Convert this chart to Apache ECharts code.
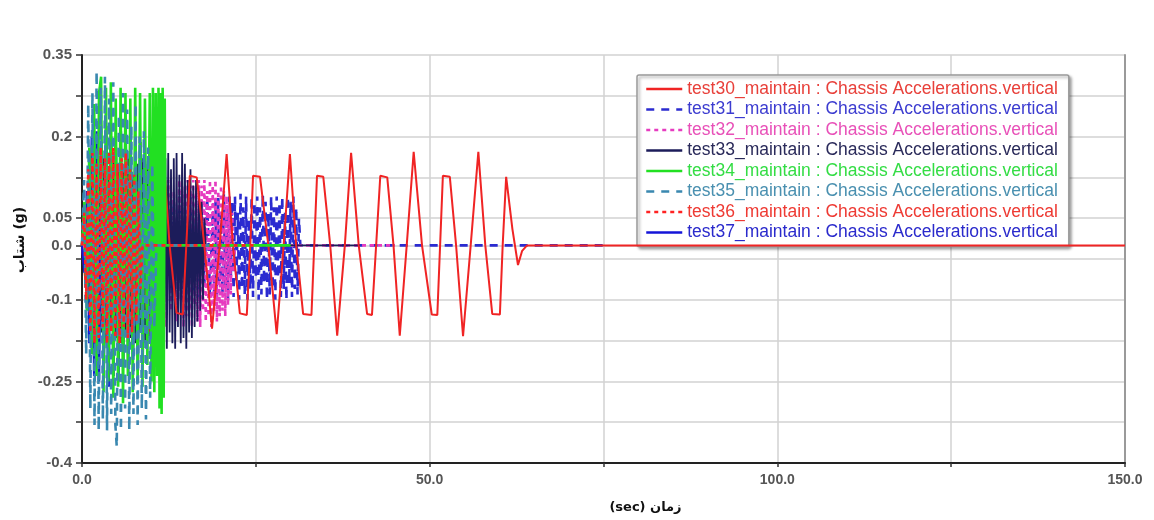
<!DOCTYPE html>
<html><head><meta charset="utf-8">
<script src="https://cdn.jsdelivr.net/npm/echarts@6/dist/echarts.min.js"></script>
<style>html,body{margin:0;padding:0;background:#fff}#c{width:1154px;height:520px}</style>
</head><body><div id="c"></div>
<script>
const seriesNames = [
  'test30_maintain : Chassis Accelerations.vertical',
  'test31_maintain : Chassis Accelerations.vertical',
  'test32_maintain : Chassis Accelerations.vertical',
  'test33_maintain : Chassis Accelerations.vertical',
  'test34_maintain : Chassis Accelerations.vertical',
  'test35_maintain : Chassis Accelerations.vertical',
  'test36_maintain : Chassis Accelerations.vertical',
  'test37_maintain : Chassis Accelerations.vertical'
];
const seriesColors = ['#f02424','#2b2bd0','#e63cc0','#1c1c5a','#22e022','#3a88b0','#ff2222','#1414d8'];
const legendTextColors = ['#e8403a','#3c3cd0','#e850b8','#2a2a5a','#33dd44','#4a90b0','#ee3a33','#2a2acc'];

// [time (sec), acceleration (g)]
const test30 = [[0,0],[0.6,-0.08],[1.6,0.05],[2.6,0.165],[3.5,0],[4.5,-0.125],[5.4,-0.12],[5.9,0],[6.4,0.126],[7.4,0.122],[8.4,0],[9.6,-0.16],[10.6,0],[11.7,0.168],
[12.6,0],[13.6,-0.124],[14.5,-0.127],[15.0,0],[15.5,0.128],[16.5,0.125],[17.6,0],[18.7,-0.153],[19.8,0],[20.8,0.168],
[21.7,0],[22.7,-0.125],[23.7,-0.128],[24.2,0],[24.6,0.128],[25.6,0.126],[26.8,0],[28.0,-0.163],[29.0,0],[29.9,0.168],
[30.8,0],[31.8,-0.126],[33.0,-0.128],[33.4,0],[33.8,0.128],[34.7,0.126],[35.7,0],[36.7,-0.166],[37.8,0],[38.7,0.17],
[39.8,0],[41.0,-0.126],[41.7,-0.128],[42.3,0],[42.9,0.128],[43.9,0.125],[44.8,0],[45.7,-0.166],[46.7,0],[47.7,0.172],
[48.9,0],[50.3,-0.127],[51.1,-0.128],[51.5,0],[51.9,0.128],[52.9,0.126],[53.8,0],[54.8,-0.167],[55.9,0],[57.0,0.172],
[58.0,0],[59.0,-0.126],[60.1,-0.127],[60.5,0],[61.0,0.126],[61.9,0.03],[62.7,-0.036],[63.3,-0.01],[64.0,0],[150,0]];

const test31 = [[0,0],[0.4,0.05],[0.8,-0.07],[1.2,0.08],[1.6,-0.09],[2.0,0.07],[2.4,-0.1],[2.8,0.09],[3.2,-0.08],[3.6,0.06],[4.0,-0.1],[4.4,0.09],[4.8,-0.07],[5.2,0.08],[5.6,-0.09],[6.0,0.09],[6.4,-0.06],[6.8,0.07],[7.2,-0.1],[7.6,0.08],[8.0,-0.09],[8.4,0.06],[8.8,-0.08],[9.2,0.09],[9.6,-0.1],[10.0,0.07],[10.4,-0.09],[10.8,0.08],[11.2,-0.07],[11.6,0.09],[12.0,-0.1],[12.4,0.06],[12.8,-0.09],[13.2,0.08],[13.6,-0.06],[14.0,0.09],[14.4,-0.1],[14.8,0.07],[15.2,-0.08],[15.6,0.09],[16.0,-0.09],[16.4,0.05],[16.8,-0.1],[17.2,0.08],[17.6,-0.07],[18.0,0.09],[18.4,-0.09],[18.8,0.06],
[19.0,-0.09],[19.2,0.08],[19.4,-0.1],[19.6,0.09],[19.8,-0.07],[20.0,0.06],[20.2,-0.09],[20.4,0.095],[20.6,-0.08],[20.8,0.07],[21.0,-0.1],[21.2,0.09],[21.4,-0.06],[21.6,0.08],[21.8,-0.095],[22.0,0.09],[22.2,-0.07],[22.4,0.06],[22.6,-0.1],[22.8,0.095],[23.0,-0.08],[23.2,0.07],[23.4,-0.09],[23.6,0.09],[23.8,-0.1],[24.0,0.05],[24.2,-0.08],[24.4,0.09],[24.6,-0.095],[24.8,0.08],[25.0,-0.06],[25.2,0.09],[25.4,-0.1],[25.6,0.07],[25.8,-0.09],[26.0,0.095],[26.2,-0.07],[26.4,0.08],[26.6,-0.1],[26.8,0.06],[27.0,-0.09],[27.2,0.09],[27.4,-0.08],[27.6,0.07],[27.8,-0.1],[28.0,0.09],[28.2,-0.06],[28.4,0.08],[28.6,-0.095],[28.8,0.09],[29.0,-0.08],[29.2,0.06],[29.4,-0.1],[29.6,0.09],[29.8,-0.07],[30.0,0.08],[30.2,-0.095],[30.4,0.09],[30.6,-0.08],[30.8,0.07],[31.0,-0.09],[31.2,0.05],[31.4,0],[75,0]];

const test32 = [[0,0],[0.4,0.04],[0.8,-0.06],[1.2,0.08],[1.6,-0.1],[2.0,0.1],[2.4,-0.12],[2.8,0.11],[3.2,-0.13],[3.6,0.1],[4.0,-0.12],[4.4,0.12],[4.8,-0.14],[5.2,0.09],[5.6,-0.13],[6.0,0.11],[6.4,-0.12],[6.8,0.12],[7.2,-0.14],[7.6,0.1],[8.0,-0.11],[8.4,0.12],[8.8,-0.15],[9.2,0.11],[9.6,-0.12],[10.0,0.1],[10.4,-0.14],[10.8,0.12],[11.2,-0.13],[11.6,0.11],[12.0,-0.15],[12.4,0.12],[12.8,-0.12],[13.2,0.1],[13.6,-0.14],
[14.0,0.12],[14.2,-0.1],[14.4,0.11],[14.6,-0.15],[14.8,0.1],[15.0,-0.13],[15.2,0.12],[15.4,-0.12],[15.6,0.11],[15.8,-0.15],[16.0,0.12],[16.2,-0.11],[16.4,0.1],[16.6,-0.14],[16.8,0.12],[17.0,-0.15],[17.2,0.11],[17.4,-0.12],[17.6,0.12],[17.8,-0.14],[18.0,0.1],[18.2,-0.13],[18.4,0.12],[18.6,-0.15],[18.8,0.11],[19.0,-0.12],[19.2,0.12],[19.4,-0.14],[19.6,0.1],[19.8,-0.13],[20.0,0.11],[20.2,-0.12],[20.4,0.1],[20.6,-0.13],[20.8,0.09],[21.0,-0.11],[21.2,0.08],[21.4,-0.09],[21.6,0.06],[21.8,-0.05],[22.0,0],[45,0]];

const test33 = [[0,0],[0.35,0.06],[0.7,-0.09],[1.05,0.12],[1.4,-0.14],[1.75,0.15],[2.1,-0.17],[2.45,0.14],[2.8,-0.16],[3.15,0.16],[3.5,-0.18],[3.85,0.13],[4.2,-0.15],[4.55,0.16],[4.9,-0.17],[5.25,0.15],[5.6,-0.18],[5.95,0.14],[6.3,-0.16],[6.65,0.16],[7.0,-0.17],[7.35,0.13],[7.7,-0.18],[8.05,0.15],[8.4,-0.16],[8.75,0.16],[9.1,-0.18],[9.45,0.14],[9.8,-0.17],[10.15,0.15],[10.5,-0.16],[10.85,0.16],[11.2,-0.18],
[11.6,0.15],[11.8,-0.17],[12.0,0.16],[12.2,-0.19],[12.4,0.17],[12.6,-0.16],[12.8,0.14],[13.0,-0.18],[13.2,0.16],[13.4,-0.19],[13.6,0.17],[13.8,-0.15],[14.0,0.13],[14.2,-0.18],[14.4,0.17],[14.6,-0.17],[14.8,0.15],[15.0,-0.19],[15.2,0.12],[15.4,-0.16],[15.6,0.14],[15.8,-0.17],[16.0,0.11],[16.2,-0.15],[16.4,0.12],[16.6,-0.14],[16.8,0.1],[17.0,-0.12],[17.2,0.08],[17.4,-0.1],[17.6,0.05],[17.8,0],[40,0]];

const test34 = [[0,0],[0.35,0.08],[0.7,-0.12],[1.05,0.18],[1.4,-0.2],[1.75,0.26],[2.1,-0.24],[2.45,0.28],[2.75,0.31],[3.1,-0.27],[3.45,0.29],[3.8,-0.25],[4.15,0.3],[4.5,-0.28],[4.85,0.27],[5.2,-0.26],[5.55,0.29],[5.9,-0.29],[6.25,0.28],[6.6,-0.24],[6.95,0.27],[7.3,-0.27],[7.65,0.29],[8.0,-0.25],[8.35,0.28],[8.7,-0.26],[9.05,0.27],[9.4,-0.22],[9.75,0.28],[10.0,-0.25],[10.2,0.29],[10.4,-0.27],[10.6,0.28],[10.8,-0.24],[11.0,0.29],[11.15,-0.3],[11.3,0.28],[11.45,-0.31],[11.6,0.29],[11.75,-0.28],[11.9,0.27],[12.0,0],[30,0]];

const test35 = [[0,0],[0.3,0.12],[0.6,-0.2],[0.9,0.26],[1.2,-0.3],[1.5,0.28],[1.8,-0.33],[2.1,0.32],[2.4,-0.34],[2.7,0.29],[3.0,-0.32],[3.3,0.31],[3.6,-0.34],[3.9,0.27],[4.2,-0.31],[4.5,0.3],[4.8,-0.33],[5.0,-0.37],[5.3,0.24],[5.6,-0.34],[5.9,0.28],[6.2,-0.3],[6.5,0.25],[6.8,-0.34],[7.1,0.22],[7.4,-0.31],[7.7,0.26],[8.0,-0.33],[8.3,0.2],[8.6,-0.3],[8.9,0.21],[9.2,-0.32],[9.5,0.18],[9.8,-0.28],[10.1,0.15],[10.4,-0.15],[10.7,0],[20,0]];

const test36 = [[0,0],[0.3,0.06],[0.6,-0.1],[0.9,0.14],[1.2,-0.16],[1.5,0.17],[1.8,-0.18],[2.1,0.15],[2.4,-0.17],[2.7,0.18],[3.0,-0.15],[3.3,0.16],[3.6,-0.18],[3.9,0.17],[4.2,-0.16],[4.5,0.18],[4.8,-0.17],[5.1,0.15],[5.4,-0.18],[5.7,0.16],[6.0,-0.15],[6.3,0.17],[6.6,-0.17],[6.9,0.14],[7.2,-0.16],[7.5,0.13],[7.8,-0.14],[8.1,0.1],[8.4,-0.08],[8.7,0],[25,0]];

const test37 = [[0,0],[0.35,-0.05],[0.7,0.1],[1.05,-0.18],[1.4,0.2],[1.75,-0.24],[2.1,0.21],[2.45,-0.25],[2.8,0.19],[3.15,-0.23],[3.5,0.22],[3.85,-0.26],[4.2,0.2],[4.55,-0.24],[4.9,0.18],[5.25,-0.25],[5.6,0.21],[5.95,-0.22],[6.3,0.19],[6.65,-0.24],[7.0,0.2],[7.35,-0.21],[7.7,0.17],[8.05,-0.23],[8.4,0.19],[8.75,-0.2],[9.1,0.15],[9.45,-0.17],[9.8,0.08],[10.1,0],[20,0]];

const yTickValues = [-0.4,-0.325,-0.25,-0.175,-0.1,-0.025,0,0.05,0.125,0.2,0.275,0.35];
const yLabelValues = [-0.4,-0.25,-0.1,0,0.05,0.2,0.35];
const yLabelTexts = ['-0.4','-0.25','-0.1','0.0','0.05','0.2','0.35'];
const xLabelValues = [0,50,100,150];
const xLabelTexts = ['0.0','50.0','100.0','150.0'];

const dataSets = [test30,test31,test32,test33,test34,test35,test36,test37];
const dashTypes = ['solid',[8,7],[4,4],'solid','solid',[8,7],[4,4],'solid'];
const lineWidths = [2,2.6,2.6,1.8,2.6,2.6,2.6,2.4];
const zOrder = [5,2,3,4,7,8,9,6];

const chart = echarts.init(document.getElementById('c'), null, {renderer:'canvas'});
const font = '"Liberation Sans", Arial, sans-serif';
chart.setOption({
  animation: false,
  backgroundColor: '#fff',
  grid: {left: 82, right: 29, top: 55, bottom: 57, containLabel: false},
  legend: {
    orient: 'vertical', left: 637, top: 75,
    padding: [5, 11, 5, 8],
    itemWidth: 36, itemHeight: 14, itemGap: 2.5,
    backgroundColor: '#fff', borderColor: '#9a9a9a', borderWidth: 1.5, borderRadius: 2,
    shadowColor: 'rgba(0,0,0,0.35)', shadowBlur: 3, shadowOffsetX: 2, shadowOffsetY: 2,
    selectedMode: false,
    itemStyle: {opacity: 0, borderWidth: 0},
    lineStyle: {width: 2.5},
    textStyle: {fontFamily: font, fontSize: 17.5},
    data: seriesNames.map((n,i)=>({name:n, textStyle:{color: legendTextColors[i]}}))
  },
  xAxis: {
    type: 'value', min: 0, max: 150, interval: 25,
    name: '(sec) زمان', nameLocation: 'middle', nameGap: 38,
    nameTextStyle: {fontFamily: '"DejaVu Sans", sans-serif', fontSize: 13, fontWeight: 'bold', color: '#111', padding: [0,0,0,84]},
    axisLine: {show: true, onZero: false, lineStyle: {color: '#222', width: 2}},
    axisTick: {show: true, length: 4, lineStyle: {color: '#333', width: 1.5}},
    axisLabel: {fontFamily: font, fontSize: 14, fontWeight: 'bold', color: '#555', margin: 10,
      formatter: v => { const k = xLabelValues.indexOf(v); return k >= 0 ? xLabelTexts[k] : ''; }},
    splitLine: {show: true, lineStyle: {color: '#d2d2d2', width: 1.5}}
  },
  yAxis: [{
    type: 'value', min: -0.4, max: 0.35,
    name: 'شتاب (g)', nameLocation: 'middle', nameGap: 54, nameRotate: 90,
    nameTextStyle: {fontFamily: '"DejaVu Sans", sans-serif', fontSize: 14, fontWeight: 'bold', color: '#111', padding: [0,0,0,38]},
    axisLine: {show: true, onZero: false, lineStyle: {color: '#222', width: 2}},
    axisTick: {show: true, length: 6, customValues: yTickValues, lineStyle: {color: '#333', width: 1.5}},
    axisLabel: {fontFamily: font, fontSize: 15, fontWeight: 'bold', color: '#555', margin: 10,
      customValues: yLabelValues,
      formatter: v => { for (let k = 0; k < yLabelValues.length; k++) if (Math.abs(yLabelValues[k]-v) < 1e-9) return yLabelTexts[k]; return ''; }},
    splitLine: {show: true, lineStyle: {color: '#d2d2d2', width: 1.5}}
  }, {
    type: 'value', min: -0.4, max: 0.35, position: 'right',
    axisLine: {show: true, onZero: false, lineStyle: {color: '#9a9a9a', width: 2}},
    axisTick: {show: false}, axisLabel: {show: false}, splitLine: {show: false}
  }],
  series: seriesNames.map((n,i)=>({
    name: n, type: 'line', data: dataSets[i], yAxisIndex: 0,
    showSymbol: false, symbol: 'none', z: zOrder[i], silent: true,
    lineStyle: {color: seriesColors[i], width: lineWidths[i], type: dashTypes[i]},
    itemStyle: {color: seriesColors[i]}
  }))
});
</script></body></html>
